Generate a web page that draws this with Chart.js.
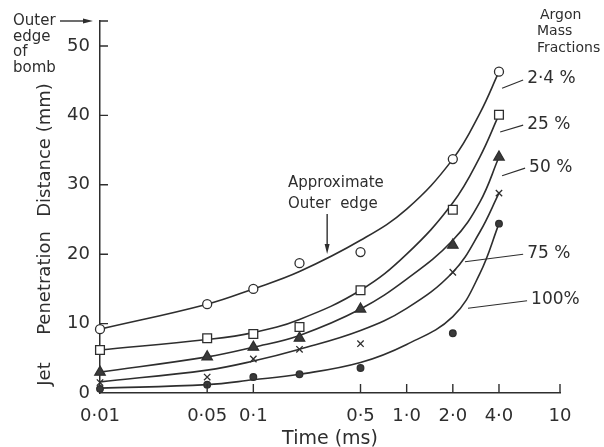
<!DOCTYPE html>
<html>
<head>
<meta charset="utf-8">
<script src="https://cdn.jsdelivr.net/npm/chart.js@4"></script>
<style>
html,body{margin:0;padding:0;background:#fff}
#wrap{width:604px;height:447px}
</style>
</head>
<body>
<div id="wrap"><canvas id="chart" width="604" height="447"></canvas></div>
<script>
// ======================= DATA =======================
// measured points (time in ms, penetration in mm)
const sampleTimes=[0.01,0.05,0.1,0.2,0.5,2,4];
const pts24 =[9.2,12.8,15.0,18.7,20.3,33.7,46.3];
const pts25 =[6.2,7.9,8.5,9.5,14.8,26.4,40.1];
const pts50 =[3.0,5.2,6.6,7.9,12.1,21.3,34.0];
const pts75 =[1.5,2.3,4.9,6.3,7.1,17.4,28.8];
const pts100=[0.6,1.2,2.3,2.7,3.6,8.6,24.4];

// fitted curves
const curveTimes=[0.01,0.05,0.1,0.2,0.5,1,2,3,4];
const fit24 =[9.2,12.8,15.0,17.5,22.0,26.5,33.7,40.3,46.3];
const fit25 =[6.2,7.7,8.7,10.6,14.8,20.0,27.4,34.0,40.1];
const fit50 =[3.0,5.2,6.6,8.3,12.1,16.4,22.0,27.5,34.0];
const fit75 =[1.6,3.3,4.6,6.3,9.0,12.2,17.4,23.2,28.8];
const fit100=[0.7,1.2,1.9,2.7,4.4,7.0,11.0,17.2,24.4];

const seriesLabels=['2·4 %','25 %','50 %','75 %','100%'];
const xTicks=[0.01,0.05,0.1,0.5,1,2,4,10];
const xTickLabels=['0·01','0·05','0·1','0·5','1·0','2·0','4·0','10'];
const yTicks=[0,10,20,30,40,50];
const yMax=53.6;

// ======================= STYLE =======================
const ink='#2e2e2e';
const fam='"DejaVu Sans", sans-serif';
Chart.defaults.font.family=fam;
Chart.defaults.color=ink;

const pairs=(xs,ys)=>xs.map((v,i)=>({x:v,y:ys[i]}));

function curve(vals){
  return {type:'line',data:pairs(curveTimes,vals),borderColor:ink,borderWidth:1.6,
    pointRadius:0,tension:0.4,fill:false,order:2};
}
function marks(vals,style,radius,filled){
  return {type:'scatter',data:pairs(sampleTimes,vals),showLine:false,pointStyle:style,
    pointRadius:radius,pointBorderColor:ink,pointBorderWidth:1.3,clip:false,
    pointBackgroundColor:filled?'#3a3a3a':'#fff',order:1};
}

// annotation layout (data units)
const leaders=[
  {from:[4.19,43.9],to:[5.75,45.1]},
  {from:[4.07,37.6],to:[5.75,38.6]},
  {from:[4.19,31.3],to:[5.92,32.4]},
  {from:[2.40,18.9],to:[5.75,20.0]},
  {from:[2.51,12.2],to:[6.10,13.3]}
];

// ======================= EXTRA DRAWING =======================
function arrowHead(ctx,x,y,dir){
  ctx.beginPath();
  if(dir==='right'){ctx.moveTo(x,y);ctx.lineTo(x-10,y-2.5);ctx.lineTo(x-10,y+2.5);}
  else {ctx.moveTo(x,y);ctx.lineTo(x-2.5,y-10);ctx.lineTo(x+2.5,y-10);}
  ctx.closePath();ctx.fill();
}

const extras={
  id:'extras',
  afterDraw(chart){
    const {ctx,scales:{x,y},chartArea:a}=chart;
    ctx.save();
    ctx.strokeStyle=ink;ctx.fillStyle=ink;ctx.lineWidth=1.4;
    // inside tick marks
    ctx.beginPath();
    xTicks.slice(1).forEach(v=>{const px=x.getPixelForValue(v);ctx.moveTo(px,a.bottom);ctx.lineTo(px,a.bottom-9);});
    yTicks.slice(1).concat([yMax]).forEach(v=>{const py=y.getPixelForValue(v);ctx.moveTo(a.left,py);ctx.lineTo(a.left+8,py);});
    ctx.stroke();

    // y title, spread out like the original lettering
    ctx.font='18px '+fam;ctx.textAlign='center';ctx.textBaseline='middle';
    [['Jet',374],['Penetration',283],['Distance (mm)',150]].forEach(([t,cy])=>{
      ctx.save();ctx.translate(45,cy);ctx.rotate(-Math.PI/2);ctx.fillText(t,0,0);ctx.restore();
    });

    // outer edge of bomb
    ctx.font='15px '+fam;ctx.textAlign='left';
    const topY=y.getPixelForValue(yMax);
    ['Outer','edge','of','bomb'].forEach((t,i)=>ctx.fillText(t,13,topY+i*15.7));
    ctx.beginPath();ctx.moveTo(60,topY);ctx.lineTo(88,topY);ctx.stroke();
    arrowHead(ctx,93,topY,'right');

    // approximate outer edge
    const ax=x.getPixelForValue(0.303);
    ctx.fillText('Approximate',288,183);
    ctx.fillText('Outer  edge',288,204);
    ctx.beginPath();ctx.moveTo(ax,214);ctx.lineTo(ax,246);ctx.stroke();
    arrowHead(ctx,ax,254,'down');

    // series labels with leader lines
    ctx.font='14px '+fam;
    ['Argon','Mass','Fractions'].forEach((t,i)=>ctx.fillText(t,i===0?540:537,15+i*16.5));
    ctx.font='17px '+fam;ctx.lineWidth=1.1;
    leaders.forEach((l,i)=>{
      const x1=x.getPixelForValue(l.from[0]),y1=y.getPixelForValue(l.from[1]);
      const x2=x.getPixelForValue(l.to[0]),y2=y.getPixelForValue(l.to[1]);
      ctx.beginPath();ctx.moveTo(x1,y1);ctx.lineTo(x2,y2);ctx.stroke();
      ctx.fillText(seriesLabels[i],x2+4,y2-1);
    });
    ctx.restore();
  }
};

// ======================= CHART =======================
new Chart(document.getElementById('chart'),{
  type:'scatter',
  data:{datasets:[
    curve(fit24),curve(fit25),curve(fit50),curve(fit75),curve(fit100),
    marks(pts24,'circle',4.5,false),
    marks(pts25,'rect',6.2,false),
    marks(pts50,'triangle',6,true),
    marks(pts75,'crossRot',4.5,false),
    marks(pts100,'circle',3.3,true)
  ]},
  options:{
    responsive:false,animation:false,devicePixelRatio:1,
    layout:{padding:{left:0,top:21,right:44,bottom:0}},
    plugins:{legend:{display:false},tooltip:{enabled:false}},
    scales:{
      x:{type:'logarithmic',min:0.01,max:10,
        afterBuildTicks:s=>{s.ticks=xTicks.map(v=>({value:v}));},
        afterFit:s=>{s.height=54;},
        grid:{display:false,drawTicks:false},
        border:{display:true,color:ink,width:1.5},
        ticks:{autoSkip:false,maxRotation:0,padding:13,font:{size:18},color:ink,
          callback:(v,i)=>xTickLabels[i]},
        title:{display:true,text:'Time (ms)',font:{size:19},color:ink,padding:{top:0,bottom:-3}}
      },
      y:{type:'linear',min:0,max:yMax,
        afterBuildTicks:s=>{s.ticks=yTicks.map(v=>({value:v}));},
        afterFit:s=>{s.width=100;},
        grid:{display:false,drawTicks:false},
        border:{display:true,color:ink,width:1.5},
        ticks:{padding:10,font:{size:18},color:ink}
      }
    }
  },
  plugins:[extras]
});
</script>
</body>
</html>
